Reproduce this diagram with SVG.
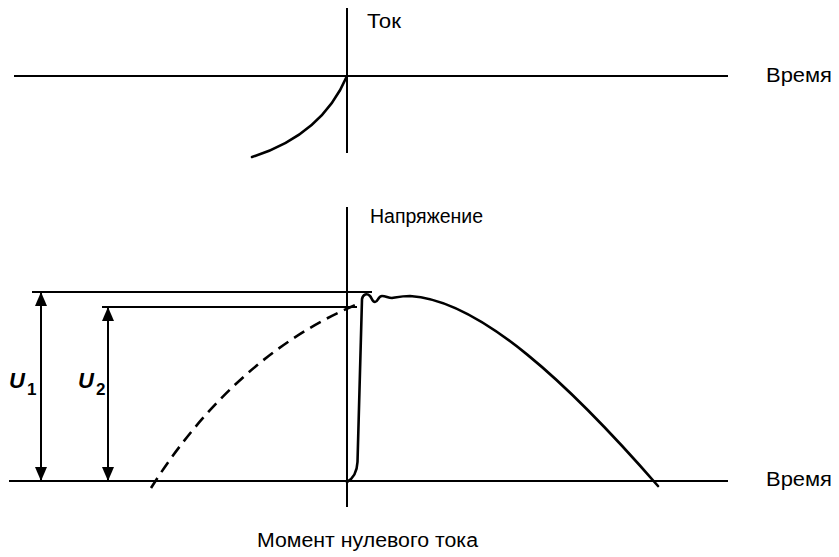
<svg xmlns="http://www.w3.org/2000/svg" width="839" height="557" viewBox="0 0 839 557">
<defs>
<style>
.ax{stroke:#000;stroke-width:2;fill:none}
.cv{stroke:#000;stroke-width:2.6;fill:none;stroke-linecap:round;stroke-linejoin:round}
.ds{stroke:#000;stroke-width:2.6;fill:none;stroke-dasharray:12 7}
.t{font-family:"Liberation Sans",Arial,sans-serif;font-size:20px;fill:#000}
.u{font-family:"Liberation Sans",Arial,sans-serif;font-size:22px;font-weight:bold;font-style:italic;fill:#000}
.s{font-family:"Liberation Sans",Arial,sans-serif;font-size:17px;font-weight:bold;fill:#000}
</style>
<marker id="ah" viewBox="0 0 14 12" refX="14" refY="6" markerWidth="14" markerHeight="12" markerUnits="userSpaceOnUse" orient="auto-start-reverse">
<path d="M0,0 L14,6 L0,12 Z" fill="#000"/>
</marker>
</defs>
<g id="current-plot">
<line class="ax" x1="14" y1="76" x2="728" y2="76"/>
<line class="ax" x1="347" y1="8" x2="347" y2="153"/>
<path class="cv" d="M347,76 Q322,135 252,157"/>
<text class="t" x="367" y="28" textLength="34" lengthAdjust="spacingAndGlyphs">Ток</text>
<text class="t" x="766" y="82" textLength="66" lengthAdjust="spacingAndGlyphs">Время</text>
</g>
<g id="voltage-plot">
<line class="ax" x1="9" y1="481" x2="728" y2="481"/>
<line class="ax" x1="347" y1="207" x2="347" y2="507"/>
<text class="t" x="370" y="223" style="font-size:19.5px">Напряжение</text>
<text class="t" x="766" y="486" textLength="66" lengthAdjust="spacingAndGlyphs">Время</text>
<text class="t" x="257" y="547" textLength="221" lengthAdjust="spacingAndGlyphs">Момент нулевого тока</text>
</g>
<g id="voltage-curves">
<path class="ds" d="M151,488 C200,410 270,340 358,304"/>
<path class="cv" d="M347,482 C354,478 357,472 357.5,462 L362,299 C363,294 367,293 370,296 C372,298 372,302 375,302 C378,302 378,296 382,296 C386,296 388,298 392,298 C398,297 402,296 410,296 C480,300 570,385 658,486"/>
</g>
<g id="u1">
<line class="ax" x1="32" y1="292" x2="372" y2="292"/>
<line class="ax" x1="41" y1="292" x2="41" y2="481" marker-start="url(#ah)" marker-end="url(#ah)"/>
<text class="u" x="9" y="388">U</text>
<text class="s" x="27" y="395">1</text>
</g>
<g id="u2">
<line class="ax" x1="102" y1="307" x2="357" y2="307"/>
<line class="ax" x1="108" y1="307" x2="108" y2="481" marker-start="url(#ah)" marker-end="url(#ah)"/>
<text class="u" x="78" y="388">U</text>
<text class="s" x="96" y="395">2</text>
</g>
</svg>
